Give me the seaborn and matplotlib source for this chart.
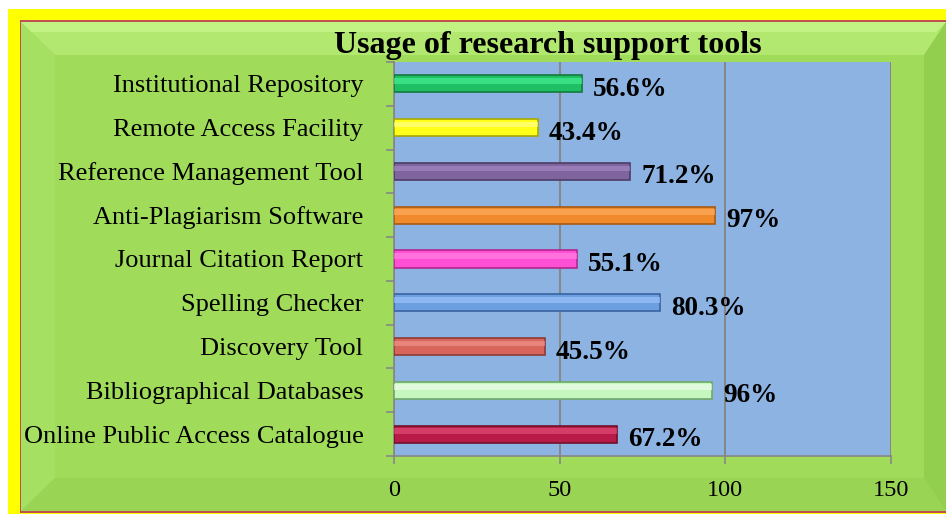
import matplotlib
matplotlib.use("Agg")
import matplotlib.pyplot as plt
from matplotlib.patches import Polygon
from matplotlib.ticker import FixedLocator
import seaborn as sns

# data, top to bottom as in the chart
tools = ['Institutional Repository', 'Remote Access Facility', 'Reference Management Tool',
         'Anti-Plagiarism Software', 'Journal Citation Report', 'Spelling Checker',
         'Discovery Tool', 'Bibliographical Databases', 'Online Public Access Catalogue']
usage = [56.6, 43.4, 71.2, 97, 55.1, 80.3, 45.5, 96, 67.2]
usage_labels = ['56.6%', '43.4%', '71.2%', '97%', '55.1%', '80.3%', '45.5%', '96%', '67.2%']
bar_colors = ['#1FBF63', '#FFFF1A', '#7E659E', '#F08A2A', '#FF4FD2',
              '#6C9FE0', '#D8655C', '#C6F7BE', '#B81B48']
edge_colors = ['#137A3C', '#A8A800', '#4E3C68', '#A85A12', '#B02890',
               '#3A62A0', '#8E3A34', '#6FA868', '#70102C']
light_colors = ['#4BF59A', '#FFFF9A', '#A88CCB', '#FFB36A', '#FF8AE6',
                '#A3C8FF', '#F29990', '#F2FFF0', '#E8557C']
xticks = [0, 50, 100, 150]

W, H = 946, 514
sns.set_theme(style='white')
plt.rcParams['font.family'] = ['Liberation Serif', 'DejaVu Serif']
plt.rcParams['text.color'] = 'black'
plt.rcParams['xtick.color'] = 'black'
plt.rcParams['ytick.color'] = 'black'

fig = plt.figure(figsize=(W / 100, H / 100), dpi=100)
fig.patch.set_facecolor('white')


def px(pts):
    return [(x / W, 1 - y / H) for x, y in pts]


def poly(pts, color, z=0, alpha=1.0):
    fig.add_artist(Polygon(px(pts), closed=True, facecolor=color, edgecolor='none',
                           transform=fig.transFigure, zorder=z, alpha=alpha))


# yellow frame and softly bevelled green panel
poly([(8, 9), (W, 9), (W, H), (8, H)], '#FFFF00', z=-10)
poly([(20, 20), (W, 20), (W, 513), (20, 513)], '#C0504D', z=-9)
poly([(21, 22), (W, 22), (W, 511), (21, 511)], '#A0DC5A', z=-8)
poly([(21, 22), (W, 22), (W - 22, 55), (55, 55)], '#B2E870', z=-7)
poly([(21, 22), (W, 22), (W - 10, 32), (31, 32)], '#C2F284', z=-7)
poly([(21, 22), (55, 55), (55, 478), (21, 511)], '#A6E062', z=-7)
poly([(W, 22), (W, 511), (W - 22, 478), (W - 22, 55)], '#92CF4E', z=-7)
poly([(21, 511), (W, 511), (W - 22, 478), (55, 478)], '#9AD454', z=-7)

ax = fig.add_axes([394 / W, 1 - 456 / H, (891 - 394) / W, (456 - 62) / H])
ax.set_facecolor('#8DB3E2')

sns.barplot(x=usage, y=tools, hue=tools, palette=bar_colors, legend=False,
            orient='h', width=0.39, saturation=1, ax=ax, zorder=3)
for patch, ec in zip(ax.patches, edge_colors):
    patch.set_edgecolor(ec)
    patch.set_linewidth(1.2)

# highlight strip to mimic the bevelled bars
ypos = list(range(len(tools)))
ax.barh([y - 0.07 for y in ypos], usage, height=0.13, color=light_colors,
        alpha=0.6, zorder=4, linewidth=0)

for y, v, lab in zip(ypos, usage, usage_labels):
    ax.annotate(lab, (v, y), xytext=(8, -4), textcoords='offset points',
                ha='left', va='center', fontsize=19.5, fontweight='bold',
                color='black', zorder=5)

ax.set_xlim(0, 150)
ax.set_ylim(len(tools) - 0.5, -0.5)
ax.set_xticks(xticks)
ax.set_xticklabels([str(t) for t in xticks], fontsize=17.5)
ax.set_yticks(ypos)
ax.set_yticklabels(tools, fontsize=19)
ax.yaxis.set_minor_locator(FixedLocator([y - 0.5 for y in range(len(tools) + 1)]))
ax.tick_params(axis='y', which='major', length=0, pad=22)
ax.tick_params(axis='y', which='minor', length=6, width=1.2, color='#868686', left=True)
ax.tick_params(axis='x', which='major', length=6, width=1.2, color='#868686',
               bottom=True, pad=11)
ax.set_xlabel('')
ax.set_ylabel('')

ax.grid(axis='x', color='#868686', linewidth=1.4, zorder=1)
ax.set_axisbelow(True)
ax.grid(axis='y', visible=False)
for side in ['top', 'right']:
    ax.spines[side].set_visible(False)
for side in ['left', 'bottom']:
    ax.spines[side].set_color('#868686')
    ax.spines[side].set_linewidth(1.2)

fig.text(548 / W, 1 - 45 / H, 'Usage of research support tools', ha='center',
         va='center', fontsize=23, fontweight='bold', color='black')

fig.savefig('out.png', dpi=100)
